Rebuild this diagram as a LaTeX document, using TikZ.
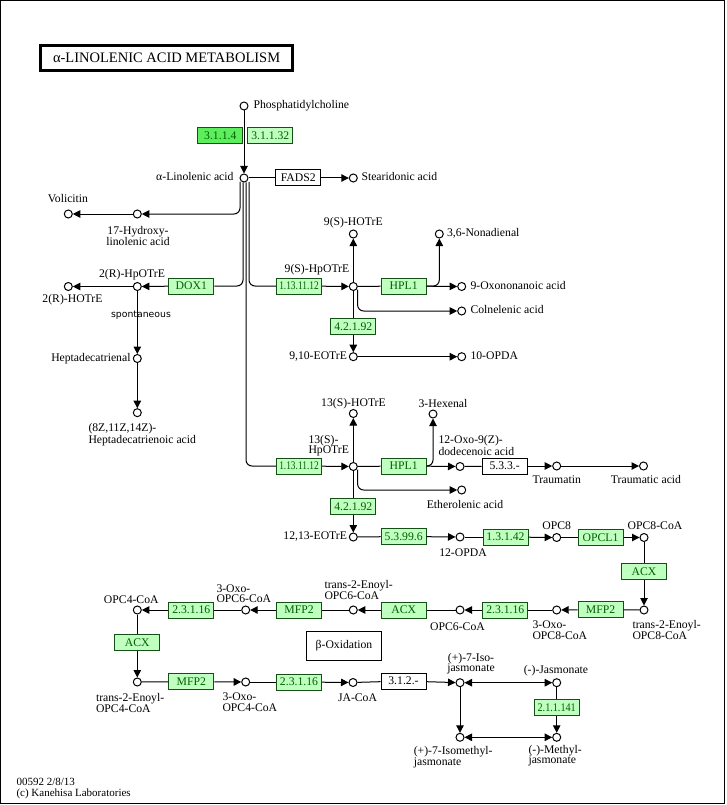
\documentclass[tikz,border=0pt]{standalone}
\usepackage{fontspec}
\setmainfont{Liberation Serif}
\newfontfamily\condA[FakeStretch=0.8]{Liberation Serif}
\newfontfamily\condB[FakeStretch=0.87]{Liberation Serif}
\newfontfamily\spfont{DejaVu Sans}
\usetikzlibrary{arrows.meta,calc}
\definecolor{encfill}{RGB}{191,255,191}
\definecolor{enchi}{RGB}{92,238,92}
\definecolor{encline}{RGB}{20,80,20}
\definecolor{enctext}{RGB}{0,95,0}
\begin{document}
\begin{tikzpicture}[x=1pt,y=-1pt,line width=1pt,
  cpd/.style={circle,draw,fill=white,minimum size=8pt,inner sep=0pt},
  enz/.style={draw=encline,fill=encfill,minimum width=45pt,minimum height=16pt,inner sep=0pt,text=enctext,font=\fontsize{11.7}{12}\selectfont},
  ench/.style={enz,fill=enchi},
  wbox/.style={draw,fill=white,minimum width=45pt,minimum height=16pt,inner sep=0pt,font=\fontsize{11.7}{12}\selectfont},
  lbl/.style={inner sep=0pt,text height=8.3pt,text depth=2.4pt,font=\fontsize{11.7}{12}\selectfont},
  mlbl/.style={inner sep=0pt,align=left,font=\fontsize{11.7}{10.5}\selectfont},
  clbl/.style={inner sep=0pt,align=center,font=\fontsize{11.7}{10.5}\selectfont},
  arr/.style={-{Triangle[length=7.5pt,width=7.5pt]}},
  dbl/.style={{Triangle[length=7.5pt,width=7.5pt]}-{Triangle[length=7.5pt,width=7.5pt]}}
]
\useasboundingbox (0,0) rectangle (726,805);
\draw (0.5,0.5) rectangle (724.5,803.5);

% title
\node[draw,line width=2.5pt,minimum width=252pt,minimum height=25pt,inner sep=0pt,font=\fontsize{14.5}{15}\selectfont] (title) at (166.6,57.8) {α-LINOLENIC ACID METABOLISM};

% compounds and enzymes, top
\node[cpd] (pc) at (244,106) {};
\node[lbl,anchor=west] (lpc) at (253,106) {Phosphatidylcholine};
\node[ench] (e3114) at (220.3,135.8) {3.1.1.4};
\node[enz] (e31132) at (270.3,135.8) {3.1.1.32};
\node[cpd] (ala) at (244,178) {};
\node[lbl,anchor=east] (lala) at (234,178) {α-Linolenic acid};
\node[wbox] (fads2) at (298.3,178) {FADS2};
\node[cpd] (sda) at (353.3,178) {};
\node[lbl,anchor=west] (lsda) at (361,178) {Stearidonic acid};

% left branch
\node[cpd] (hyd) at (137.3,214) {};
\node[clbl] (lhyd) at (138,236) {17-Hydroxy-\\linolenic acid};
\node[cpd] (vol) at (68.3,214) {};
\node[lbl] (lvol) at (68,200) {Volicitin};
\node[cpd] (hpo2r) at (137.3,286.5) {};
\node[lbl] (lhpo2r) at (132,275) {2(R)-HpOTrE};
\node[cpd] (ho2r) at (68.3,286.5) {};
\node[lbl] (lho2r) at (72.5,300) {2(R)-HOTrE};
\node[enz] (dox1) at (191.3,286) {DOX1};
\node[inner sep=0pt,font=\spfont\fontsize{9.3}{10}\selectfont] (spont) at (141,315.5) {spontaneous};
\node[cpd] (hepal) at (137.3,358.5) {};
\node[lbl,anchor=east] (lhepal) at (131,359) {Heptadecatrienal};
\node[cpd] (hepac) at (137.3,412.7) {};
\node[mlbl,anchor=west] (lhepac) at (88,434.5) {(8Z,11Z,14Z)-\\Heptadecatrienoic acid};

% 9S branch
\node[enz] (e9s) at (299,286) {\condA 1.13.11.12};
\node[cpd] (hpo9s) at (353.3,286.5) {};
\node[lbl] (lhpo9s) at (317,269.5) {9(S)-HpOTrE};
\node[cpd] (ho9s) at (353.3,234) {};
\node[lbl] (lho9s) at (353.3,222.5) {9(S)-HOTrE};
\node[enz] (hpl9) at (403.7,286) {HPL1};
\node[cpd] (nonad) at (439.3,234) {};
\node[lbl,anchor=west] (lnonad) at (446.5,234) {3,6-Nonadienal};
\node[cpd] (oxon) at (461.7,286.5) {};
\node[lbl,anchor=west] (loxon) at (470,286.5) {9-Oxononanoic acid};
\node[cpd] (coln) at (461.7,311) {};
\node[lbl,anchor=west] (lcoln) at (470,311) {Colnelenic acid};
\node[enz] (e4219a) at (353.3,326.7) {4.2.1.92};
\node[cpd] (eot910) at (353.3,356.7) {};
\node[lbl,anchor=east] (leot910) at (347.5,356.7) {9,10-EOTrE};
\node[cpd] (opda10) at (461.7,356.7) {};
\node[lbl,anchor=west] (lopda10) at (470,356.7) {10-OPDA};

% 13S branch
\node[enz] (e13s) at (299,466) {\condA 1.13.11.12};
\node[cpd] (hpo13) at (353.3,466.5) {};
\node[mlbl,anchor=west] (lhpo13) at (308,445.5) {13(S)-\\HpOTrE};
\node[cpd] (ho13) at (353.3,413.5) {};
\node[lbl] (lho13) at (353.5,404) {13(S)-HOTrE};
\node[enz] (hpl13) at (403.7,466) {HPL1};
\node[cpd] (hex) at (433,414) {};
\node[lbl] (lhex) at (443,404.5) {3-Hexenal};
\node[cpd] (oxo12) at (460,466.5) {};
\node[mlbl,anchor=west] (loxo12) at (438,445.5) {12-Oxo-9(Z)-\\dodecenoic acid};
\node[wbox] (e533) at (504.7,466) {5.3.3.-};
\node[cpd] (traumatin) at (556.7,466) {};
\node[lbl] (ltraumatin) at (556.7,481) {Traumatin};
\node[cpd] (traumatic) at (643.5,466) {};
\node[lbl] (ltraumatic) at (646,481) {Traumatic acid};
\node[cpd] (ether) at (461.7,490) {};
\node[lbl] (lether) at (465,506) {Etherolenic acid};
\node[enz] (e4219b) at (353.3,506.3) {4.2.1.92};
\node[cpd] (eot1213) at (353.3,537) {};
\node[lbl,anchor=east] (leot1213) at (347.5,537) {12,13-EOTrE};
\node[enz] (e53996) at (403.7,536.5) {5.3.99.6};
\node[cpd] (opda12) at (460,537) {};
\node[lbl] (lopda12) at (463,554) {12-OPDA};
\node[enz] (e13142) at (505.5,537) {1.3.1.42};
\node[cpd] (opc8) at (556.7,537.5) {};
\node[lbl] (lopc8) at (556.7,526.5) {OPC8};
\node[enz] (opcl1) at (600.5,537.5) {OPCL1};
\node[cpd] (opc8coa) at (644,537.5) {};
\node[lbl] (lopc8coa) at (655,526.5) {OPC8-CoA};

% beta oxidation
\node[enz] (acx1) at (644,571.3) {ACX};
\node[cpd] (t2e8) at (644,610) {};
\node[mlbl,anchor=west] (lt2e8) at (632,630) {trans-2-Enoyl-\\OPC8-CoA};
\node[enz] (mfp2a) at (600.5,609.5) {MFP2};
\node[cpd] (oxo8) at (556.7,610) {};
\node[mlbl,anchor=west] (loxo8) at (532,630) {3-Oxo-\\OPC8-CoA};
\node[enz] (e23116a) at (505.3,610) {2.3.1.16};
\node[cpd] (opc6) at (460,610) {};
\node[lbl] (lopc6) at (457.5,628) {OPC6-CoA};
\node[enz] (acx2) at (403.7,610) {ACX};
\node[cpd] (t2e6) at (353.3,610) {};
\node[mlbl,anchor=west] (lt2e6) at (324,590) {trans-2-Enoyl-\\OPC6-CoA};
\node[enz] (mfp2b) at (299,610) {MFP2};
\node[cpd] (oxo6) at (245.7,610) {};
\node[mlbl,anchor=west] (loxo6) at (216,593.5) {3-Oxo-\\OPC6-CoA};
\node[enz] (e23116b) at (191.3,610) {2.3.1.16};
\node[cpd] (opc4) at (137.3,610) {};
\node[lbl] (lopc4) at (131.3,600.5) {OPC4-CoA};
\node[enz] (acx3) at (137.3,642.3) {ACX};
\node[cpd] (t2e4) at (137.3,682) {};
\node[mlbl,anchor=west] (lt2e4) at (95.5,703) {trans-2-Enoyl-\\OPC4-CoA};
\node[enz] (mfp2c) at (191.3,681.7) {MFP2};
\node[cpd] (oxo4) at (245.7,682) {};
\node[mlbl,anchor=west] (loxo4) at (222,702) {3-Oxo-\\OPC4-CoA};
\node[enz] (e23116c) at (299,682) {2.3.1.16};
\node[cpd] (jacoa) at (353,682.5) {};
\node[lbl] (ljacoa) at (357.5,698.5) {JA-CoA};
\node[wbox] (e312) at (403.5,681) {3.1.2.-};
\node[draw,minimum width=75.6pt,minimum height=29pt,inner sep=0pt,font=\fontsize{11.7}{12}\selectfont] (beta) at (344,646) {β-Oxidation};

% jasmonates
\node[cpd] (iso) at (460,682.7) {};
\node[clbl] (liso) at (471,663.7) {(+)-7-Iso-\\jasmonate};
\node[cpd] (jas) at (556.7,682.7) {};
\node[lbl] (ljas) at (556,670.7) {(-)-Jasmonate};
\node[enz] (e211141) at (556.7,707.5) {\condB 2.1.1.141};
\node[cpd] (mjas) at (556.7,737.3) {};
\node[mlbl,anchor=west] (lmjas) at (528,755.8) {(-)-Methyl-\\jasmonate};
\node[cpd] (imjas) at (460,737.3) {};
\node[mlbl,anchor=west] (limjas) at (413.3,757) {(+)-7-Isomethyl-\\jasmonate};

% footer
\node[inner sep=0pt,align=left,anchor=west,font=\fontsize{11}{11.5}\selectfont] (foot) at (16,788.5) {00592 2/8/13\\(c) Kanehisa Laboratories};

% ---------- connectors ----------
\draw[arr] (pc) -- (ala);
\draw (ala) -- (fads2);
\draw[arr] (fads2) -- (sda);
\draw[arr,rounded corners=6pt] ($(ala)+(-4,4)$) |- (hyd);
\draw[arr] (hyd) -- (vol);
\draw[rounded corners=6pt] ($(ala)+(-1,4.5)$) |- (dox1);
\draw[rounded corners=6pt] ($(ala)+(2,4.5)$) |- (e13s);
\draw[rounded corners=6pt] ($(ala)+(5,4)$) |- (e9s);
\draw[arr] (dox1) -- (hpo2r);
\draw[arr] (hpo2r) -- (ho2r);
\draw[arr] (hpo2r) -- (hepal);
\draw[arr] (hepal) -- (hepac);

\draw[arr] (e9s) -- (hpo9s);
\draw[arr] (hpo9s) -- (ho9s);
\draw (hpo9s) -- (hpl9);
\draw[arr] (hpl9) -- (oxon);
\draw[arr,rounded corners=6pt] (hpl9.east) -| (nonad);
\draw[arr,rounded corners=6pt] ($(hpo9s)+(4.3,3)$) |- (coln);
\draw (hpo9s) -- (e4219a);
\draw[arr] (e4219a) -- (eot910);
\draw[arr] (eot910) -- (opda10);

\draw[arr] (e13s) -- (hpo13);
\draw[arr] (hpo13) -- (ho13);
\draw (hpo13) -- (hpl13);
\draw[arr] (hpl13) -- (oxo12);
\draw[arr,rounded corners=6pt] (hpl13.east) -| (hex);
\draw (oxo12) -- (e533);
\draw[arr] (e533) -- (traumatin);
\draw[arr] (traumatin) -- (traumatic);
\draw[arr,rounded corners=6pt] ($(hpo13)+(4.3,3)$) |- (ether);
\draw (hpo13) -- (e4219b);
\draw[arr] (e4219b) -- (eot1213);
\draw (eot1213) -- (e53996);
\draw[arr] (e53996) -- (opda12);
\draw (opda12) -- (e13142);
\draw[arr] (e13142) -- (opc8);
\draw (opc8) -- (opcl1);
\draw[arr] (opcl1) -- (opc8coa);
\draw (opc8coa) -- (acx1);
\draw[arr] (acx1) -- (t2e8);
\draw (t2e8) -- (mfp2a);
\draw[arr] (mfp2a) -- (oxo8);
\draw (oxo8) -- (e23116a);
\draw[arr] (e23116a) -- (opc6);
\draw (opc6) -- (acx2);
\draw[arr] (acx2) -- (t2e6);
\draw (t2e6) -- (mfp2b);
\draw[arr] (mfp2b) -- (oxo6);
\draw (oxo6) -- (e23116b);
\draw[arr] (e23116b) -- (opc4);
\draw (opc4) -- (acx3);
\draw[arr] (acx3) -- (t2e4);
\draw (t2e4) -- (mfp2c);
\draw[arr] (mfp2c) -- (oxo4);
\draw (oxo4) -- (e23116c);
\draw[arr] (e23116c) -- (jacoa);
\draw (jacoa) -- (e312);
\draw[arr] (e312) -- (iso);
\draw[dbl] (iso) -- (jas);
\draw[arr] (iso) -- (imjas);
\draw (jas) -- (e211141);
\draw[arr] (e211141) -- (mjas);
\draw[dbl] (imjas) -- (mjas);
\end{tikzpicture}
\end{document}
